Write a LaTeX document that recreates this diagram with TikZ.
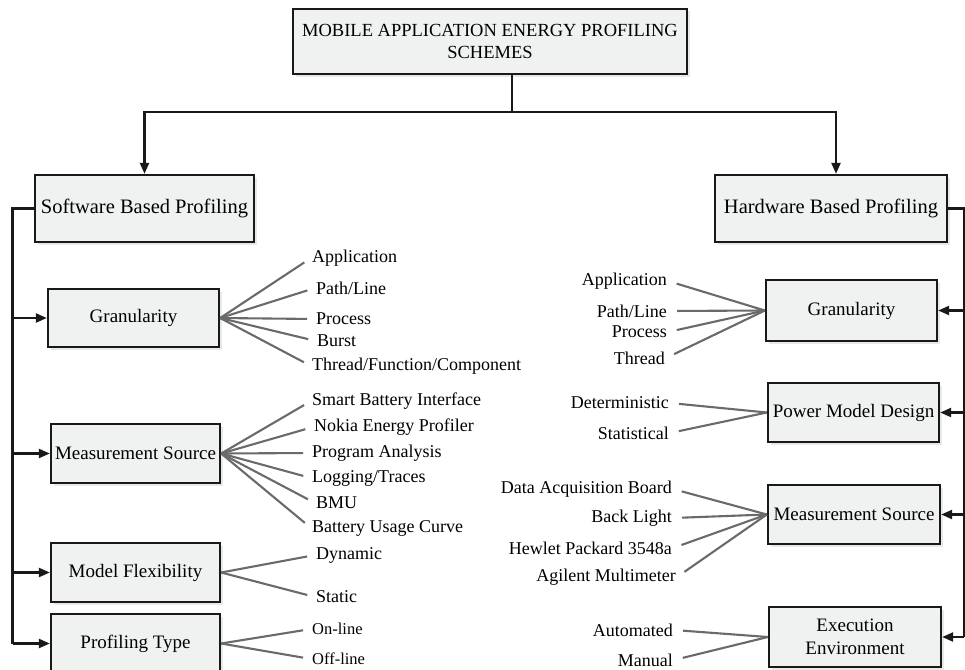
\documentclass[tikz,border=0pt]{standalone}
\usepackage{fontspec}
\setmainfont{Liberation Serif}
\usetikzlibrary{arrows.meta,shadows}

\definecolor{boxgray}{HTML}{F0F2F2}
\definecolor{fangray}{HTML}{6A6A6A}

\begin{document}
\begin{tikzpicture}[x=1pt,y=-1pt,
	box/.style={draw=black!90,line width=2.3pt,fill=boxgray,align=center,inner sep=0pt,
		drop shadow={shadow xshift=2.5pt,shadow yshift=-2.5pt,fill=black!18},
		font=\fontsize{19}{23}\selectfont},
	lbl/.style={inner sep=1pt,font=\fontsize{18}{21}\selectfont},
	fanl/.style={draw=fangray,line width=2.1pt,shorten >=8pt},
	fanr/.style={draw=fangray,line width=2.1pt,shorten <=9pt},
	trunk/.style={draw=black!90,line width=2.2pt},
	link/.style={draw=black!90,line width=2.2pt,-{Triangle[length=11pt,width=9pt]}}]

	\useasboundingbox (0,0) rectangle (965,669);
	\clip (0,0) rectangle (965,669);

	% main boxes
	\node[box,minimum width=394pt,minimum height=65pt,font=\fontsize{18.5}{22}\selectfont] (top) at (490,41.5) {MOBILE APPLICATION ENERGY PROFILING\\SCHEMES};
	\node[box,minimum width=219pt,minimum height=67pt,font=\fontsize{20.5}{24}\selectfont] (soft) at (144.5,208.5) {Software Based Profiling};
	\node[box,minimum width=232pt,minimum height=67pt,font=\fontsize{20.5}{24}\selectfont] (hard) at (831,208.5) {Hardware Based Profiling};

	\coordinate (split) at (512,112);
	\draw[trunk] (top.south -| split) -- (split);
	\draw[link] (split) -| (soft.north);
	\draw[link] (split) -| ([xshift=5pt]hard.north);

	% software side
	\node[box,minimum width=171pt,minimum height=58pt] (sgran) at (133.5,318) {Granularity};
	\node[box,minimum width=169pt,minimum height=59pt] (smeas) at (135.5,453.5) {Measurement Source};
	\node[box,minimum width=169pt,minimum height=59pt] (sflex) at (135.5,572.5) {Model Flexibility};
	\node[box,minimum width=169pt,minimum height=59pt] (stype) at (135.5,643.5) {Profiling Type};

	\coordinate (ltrunk) at (12.5,643.5);
	\draw[trunk] (soft.west) -| (ltrunk);
	\draw[link] (sgran.west -| ltrunk) -- (sgran.west);
	\draw[link] (smeas.west -| ltrunk) -- (smeas.west);
	\draw[link] (sflex.west -| ltrunk) -- (sflex.west);
	\draw[link] (ltrunk) -- (stype.west);

	\node[lbl,anchor=west] (sg1) at (311,258) {Application};
	\node[lbl,anchor=west] (sg2) at (315,288) {Path/Line};
	\node[lbl,anchor=west] (sg3) at (315,319) {Process};
	\node[lbl,anchor=west] (sg4) at (316,341) {Burst};
	\node[lbl,anchor=west] (sg5) at (311,366) {Thread/Function/Component};

	\node[lbl,anchor=west] (sm1) at (311,401) {Smart Battery Interface};
	\node[lbl,anchor=west] (sm2) at (313,427) {Nokia Energy Profiler};
	\node[lbl,anchor=west] (sm3) at (311,453) {Program Analysis};
	\node[lbl,anchor=west] (sm4) at (311,478) {Logging/Traces};
	\node[lbl,anchor=west] (sm5) at (315,503) {BMU};
	\node[lbl,anchor=west] (sm6) at (311,528) {Battery Usage Curve};

	\node[lbl,anchor=west] (sf1) at (315,555) {Dynamic};
	\node[lbl,anchor=west] (sf2) at (315,597) {Static};

	\node[lbl,anchor=west,font=\fontsize{16.5}{20}\selectfont] (st1) at (311,629) {On-line};
	\node[lbl,anchor=west,font=\fontsize{16.5}{20}\selectfont] (st2) at (311,659) {Off-line};

	\draw[fanl] (sgran.east) -- (sg1.west);
	\draw[fanl] (sgran.east) -- (sg2.west);
	\draw[fanl] (sgran.east) -- (sg3.west);
	\draw[fanl] (sgran.east) -- (sg4.west);
	\draw[fanl] (sgran.east) -- (sg5.west);

	\draw[fanl] (smeas.east) -- (sm1.west);
	\draw[fanl] (smeas.east) -- (sm2.west);
	\draw[fanl] (smeas.east) -- (sm3.west);
	\draw[fanl] (smeas.east) -- (sm4.west);
	\draw[fanl] (smeas.east) -- (sm5.west);
	\draw[fanl] (smeas.east) -- (sm6.west);

	\draw[fanl] (sflex.east) -- (sf1.west);
	\draw[fanl] (sflex.east) -- (sf2.west);

	\draw[fanl] (stype.east) -- (st1.west);
	\draw[fanl] (stype.east) -- (st2.west);

	% hardware side
	\node[box,minimum width=171pt,minimum height=61pt] (hgran) at (851.5,310.5) {Granularity};
	\node[box,minimum width=171pt,minimum height=59pt] (hpow) at (853.5,412.5) {Power Model Design};
	\node[box,minimum width=172pt,minimum height=59pt] (hmeas) at (854,514.5) {Measurement Source};
	\node[box,minimum width=172pt,minimum height=60pt] (hexec) at (855,637) {Execution\\Environment};

	\coordinate (rtrunk) at (964,637);
	\draw[trunk] (hard.east) -| (rtrunk);
	\draw[link] (hgran.east -| rtrunk) -- (hgran.east);
	\draw[link] (hpow.east -| rtrunk) -- (hpow.east);
	\draw[link] (hmeas.east -| rtrunk) -- (hmeas.east);
	\draw[link] (rtrunk) -- (hexec.east);

	\node[lbl,anchor=east] (hg1) at (668,281) {Application};
	\node[lbl,anchor=east] (hg2) at (668,311) {Path/Line};
	\node[lbl,anchor=east] (hg3) at (668,332) {Process};
	\node[lbl,anchor=east] (hg4) at (666,358) {Thread};

	\node[lbl,anchor=east] (hp1) at (670,403) {Deterministic};
	\node[lbl,anchor=east] (hp2) at (670,433) {Statistical};

	\node[lbl,anchor=east] (hm1) at (673,489) {Data Acquisition Board};
	\node[lbl,anchor=east] (hm2) at (673,518) {Back Light};
	\node[lbl,anchor=east] (hm3) at (673,548) {Hewlet Packard 3548a};
	\node[lbl,anchor=east] (hm4) at (677,577) {Agilent Multimeter};

	\node[lbl,anchor=east] (he1) at (674,630) {Automated};
	\node[lbl,anchor=east] (he2) at (674,660) {Manual};

	\draw[fanr] (hg1.east) -- (hgran.west);
	\draw[fanr] (hg2.east) -- (hgran.west);
	\draw[fanr] (hg3.east) -- (hgran.west);
	\draw[fanr] (hg4.east) -- (hgran.west);

	\draw[fanr] (hp1.east) -- (hpow.west);
	\draw[fanr] (hp2.east) -- (hpow.west);

	\draw[fanr] (hm1.east) -- (hmeas.west);
	\draw[fanr] (hm2.east) -- (hmeas.west);
	\draw[fanr] (hm3.east) -- (hmeas.west);
	\draw[fanr] (hm4.east) -- (hmeas.west);

	\draw[fanr] (he1.east) -- (hexec.west);
	\draw[fanr] (he2.east) -- (hexec.west);

\end{tikzpicture}
\end{document}
